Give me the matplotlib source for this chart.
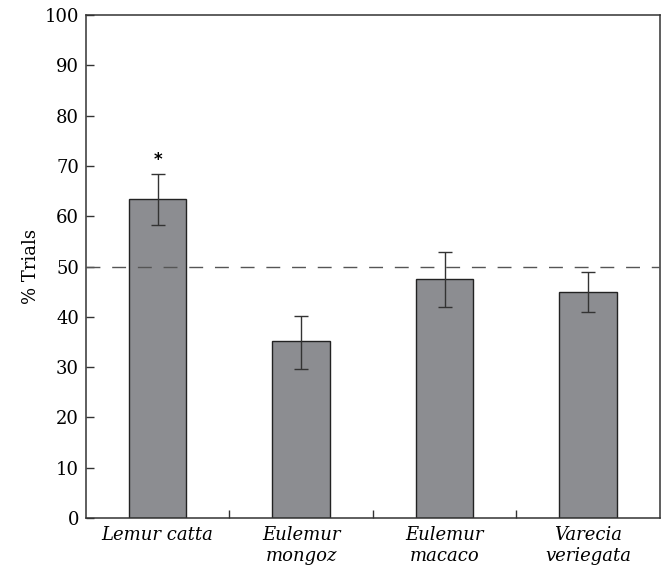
import numpy as np
import matplotlib.pyplot as plt

species = ['Lemur catta', 'Eulemur\nmongoz', 'Eulemur\nmacaco', 'Varecia\nveriegata']
pct_trials = [63.4, 35.1, 47.6, 44.9]
err_low = [58.3, 29.6, 41.9, 41.0]
err_high = [68.3, 40.2, 52.9, 48.9]
chance = 50
signif = ['*', '', '', '']

plt.rcParams['font.family'] = ['DejaVu Serif']

fig = plt.figure(figsize=(6.63, 5.7), dpi=100)
ax = fig.add_axes([0.1297, 0.0912, 0.8653, 0.8825])

x = np.arange(len(species))
vals = np.array(pct_trials)
yerr = [vals - np.array(err_low), np.array(err_high) - vals]

ax.bar(x, vals, width=0.4, color='#8c8d91', edgecolor='#222222', linewidth=1.0, zorder=2)
ax.errorbar(x, vals, yerr=yerr, fmt='none', ecolor='#333333', elinewidth=1.0,
            capsize=5, capthick=1.0, zorder=3)
ax.axhline(chance, color='#555555', lw=1.0, dashes=(10, 8.5), zorder=4)

for xi, hi, s in zip(x, err_high, signif):
    if s:
        ax.text(xi, hi + 1.0, s, ha='center', va='bottom', fontsize=12, fontweight='bold',
                family=['DejaVu Sans'])

ax.set_xlim(-0.5, 3.5)
ax.set_ylim(0, 100)
ax.set_yticks(np.arange(0, 101, 10))
ax.set_xticks(x)
ax.set_xticklabels(species, fontstyle='italic', fontsize=13, linespacing=1.2)
ax.set_xticks(x[:-1] + 0.5, minor=True)
ax.tick_params(axis='x', which='major', length=0, pad=6)
ax.tick_params(axis='x', which='minor', direction='in', length=6, width=1.0, color='#333333')
ax.tick_params(axis='y', direction='in', length=6, width=1.0, color='#333333',
               labelsize=13, pad=5)
ax.set_ylabel('% Trials', fontsize=13, labelpad=3)

for sp in ax.spines.values():
    sp.set_linewidth(1.1)
    sp.set_color('#333333')

fig.savefig('out.png', dpi=100)
